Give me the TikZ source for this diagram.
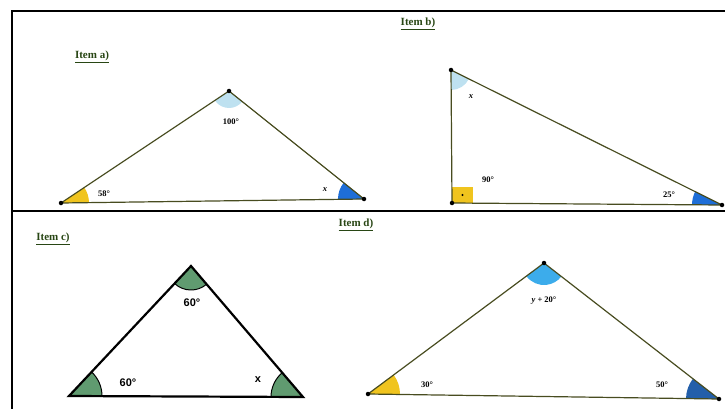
\documentclass[tikz,border=0pt]{standalone}
\usepackage{fontspec}
\setmainfont{Liberation Serif}
\newfontfamily\sansb{Liberation Sans}
\usetikzlibrary{angles}
\definecolor{olive}{RGB}{72,76,32}
\definecolor{labgreen}{RGB}{40,70,20}
\definecolor{ulgreen}{RGB}{110,150,60}
\definecolor{angyellow}{RGB}{240,196,30}
\definecolor{palebl}{RGB}{190,225,240}
\definecolor{midbl}{RGB}{30,110,215}
\definecolor{skybl}{RGB}{60,172,235}
\definecolor{darkbl}{RGB}{35,95,170}
\definecolor{cgreen}{RGB}{96,155,112}
\tikzset{
  itemlab/.style={font=\bfseries\fontsize{11}{12}\selectfont, text=labgreen, inner sep=1pt},
  anglab/.style={font=\bfseries\fontsize{8.5}{9}\selectfont, inner sep=0pt},
  clab/.style={font=\sansb\bfseries\fontsize{11}{12}\selectfont, inner sep=0pt},
  tri/.style={draw=olive, line width=1.2pt, line join=round},
  ctri/.style={draw=black, line width=2.2pt, line join=miter},
  vdot/.style={circle, fill=black, inner sep=0pt, minimum size=4.5pt},
  frame/.style={draw=black, line width=1.6pt},
}
\begin{document}
\begin{tikzpicture}[x=1pt,y=-1pt]
\useasboundingbox (0,0) rectangle (725,409);
% frame
\coordinate (f1) at (12,409);
\coordinate (f2) at (12,11);
\coordinate (f3) at (726,11);
\coordinate (d1) at (12,210.5);
\coordinate (d2) at (726,210.5);
\draw[frame] (f1) -- (f2) -- (f3);
\draw[frame, line width=2pt] (d1) -- (d2);
% labels
\node[itemlab] (la) at (92,57) {\underline{Item a)}};
\node[itemlab] (lb) at (418,24) {\underline{Item b)}};
\node[itemlab] (lc) at (53,239) {\underline{Item c)}};
\node[itemlab] (ld) at (356,225) {\underline{Item d)}};

% ---------- Item a
\coordinate (aL) at (61,203);
\coordinate (aT) at (229,91);
\coordinate (aR) at (364,199);
\pic[fill=angyellow, angle radius=28pt] {angle=aR--aL--aT};
\pic[fill=palebl, angle radius=17pt] {angle=aL--aT--aR};
\pic[fill=midbl, angle radius=26pt] {angle=aT--aR--aL};
\draw[tri] (aL) -- (aT) -- (aR) -- cycle;
\node[vdot] (aLd) at (aL) {};
\node[vdot] (aTd) at (aT) {};
\node[vdot] (aRd) at (aR) {};
\node[anglab] (a1) at (104,194) {58°};
\node[anglab] (a2) at (231,122) {100°};
\node[anglab] (a3) at (325,190) {\itshape x};

% ---------- Item b
\coordinate (bT) at (451,70);
\coordinate (bB) at (452,203);
\coordinate (bR) at (722,205);
\pic[fill=palebl, angle radius=20pt] {angle=bB--bT--bR};
\pic[fill=midbl, angle radius=30pt] {angle=bT--bR--bB};
\coordinate (bq) at (473,187);
\fill[angyellow] (bB) rectangle (bq);
\draw[tri] (bT) -- (bB) -- (bR) -- cycle;
\node[circle, fill=black, inner sep=0pt, minimum size=2.2pt] (bdot) at (462.5,195) {};
\node[vdot] (bTd) at (bT) {};
\node[vdot] (bBd) at (bB) {};
\node[vdot] (bRd) at (bR) {};
\node[anglab] (b1) at (471,97) {\itshape x};
\node[anglab] (b2) at (488,180) {90°};
\node[anglab] (b3) at (669,195) {25°};

% ---------- Item c
\coordinate (cT) at (191,266);
\coordinate (cL) at (69,396);
\coordinate (cR) at (303,397);
\pic[draw=black, line width=1pt, fill=cgreen, angle radius=24pt] {angle=cL--cT--cR};
\pic[draw=black, line width=1pt, fill=cgreen, angle radius=33pt] {angle=cR--cL--cT};
\pic[draw=black, line width=1pt, fill=cgreen, angle radius=32pt] {angle=cT--cR--cL};
\draw[ctri] (cL) -- (cT) -- (cR) -- cycle;
\node[clab] (c1) at (192,303) {60°};
\node[clab] (c2) at (128,383) {60°};
\node[clab] (c3) at (258,380) {x};

% ---------- Item d
\coordinate (dT) at (544,263);
\coordinate (dL) at (368,394);
\coordinate (dR) at (719,399);
\pic[fill=skybl, angle radius=22pt] {angle=dL--dT--dR};
\pic[fill=angyellow, angle radius=32pt] {angle=dR--dL--dT};
\pic[fill=darkbl, angle radius=33pt] {angle=dT--dR--dL};
\draw[tri] (dL) -- (dT) -- (dR) -- cycle;
\node[vdot] (dTd) at (dT) {};
\node[vdot] (dLd) at (dL) {};
\node[vdot] (dRd) at (dR) {};
\node[anglab] (d1l) at (544,301) {\itshape y\upshape\ + 20°};
\node[anglab] (d2l) at (427,385) {30°};
\node[anglab] (d3l) at (662,385) {50°};
\end{tikzpicture}
\end{document}
